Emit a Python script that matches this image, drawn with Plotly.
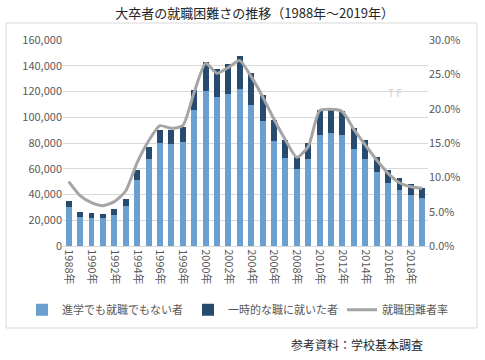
import plotly.graph_objects as go

years = [f"{y}年" for y in range(1988, 2020)]
no_path = [30550, 22780, 22000, 22000, 24080, 31330, 51260, 67830, 80260, 79480, 80780, 105630,
           120650, 115990, 118060, 121940, 109520, 97350, 81810, 68610, 59550, 67830, 86210, 88030,
           86210, 75600, 67830, 57740, 48670, 43500, 39350, 37540]
totals = [34950, 26400, 25630, 24850, 28740, 36500, 59030, 77150, 90360, 90360, 92690, 121170,
          142910, 137480, 141620, 147830, 134630, 117280, 97860, 82330, 69390, 79740, 105630, 105630,
          105110, 91910, 82330, 69390, 59030, 52560, 48160, 45310]
temp_job = [t - n for t, n in zip(totals, no_path)]
rate = [9.37, 7.33, 6.31, 5.87, 6.46, 8.01, 12.14, 15.29, 17.52, 17.14, 17.52, 22.38,
        26.6, 25.15, 26.0, 27.0, 24.66, 21.75, 18.45, 15.44, 12.91, 14.47, 19.71, 19.9,
        19.56, 16.99, 14.71, 12.52, 10.58, 9.22, 8.64, 8.40]
rate = [r / 100 for r in rate]
tick_labels = years[::2]

FONT = "Noto Sans CJK JP"
fig = go.Figure()
fig.add_trace(go.Bar(x=years, y=no_path, name="進学でも就職でもない者",
                     marker_color="#6b9fcf", marker_line_width=0, legend="legend"))
fig.add_trace(go.Bar(x=years, y=temp_job, name="一時的な職に就いた者",
                     marker_color="#264b6e", marker_line_width=0, legend="legend"))
fig.add_trace(go.Scatter(x=years, y=rate, name="就職困難者率", yaxis="y2", mode="lines",
                         legend="legend2",
                         line=dict(color="#a5a5a5", width=3, shape="spline", smoothing=0.6)))

fig.update_layout(
    width=485, height=360,
    margin=dict(l=63, r=57, t=40, b=114, autoexpand=False),
    paper_bgcolor="white", plot_bgcolor="white",
    barmode="stack", bargap=0.48,
    font=dict(family=FONT, size=11, color="#595959"),
    title=dict(text="大卒者の就職困難さの推移（1988年～2019年）", x=0.525, xanchor="center",
               y=0.962, yanchor="middle", font=dict(family=FONT, size=13, color="#262626")),
    xaxis=dict(type="category", tickmode="array", tickvals=tick_labels, ticktext=tick_labels,
               tickangle=90, showgrid=False, showline=True, linecolor="#d9d9d9",
               ticks="", automargin=False, tickfont=dict(size=11, color="#595959")),
    yaxis=dict(range=[0, 160000], dtick=20000, tickformat=",", gridcolor="#d9d9d9",
               zeroline=False, showline=False, ticks="", automargin=False,
               tickfont=dict(size=11, color="#595959")),
    yaxis2=dict(range=[0, 0.30], dtick=0.05, tickformat=".1%", overlaying="y", side="right",
                showgrid=False, zeroline=False, ticks="", automargin=False,
                tickfont=dict(size=11, color="#595959")),
    legend=dict(orientation="h", x=(22 - 63) / 365, xanchor="left", y=-0.31, yanchor="middle",
                font=dict(size=11, color="#595959"), traceorder="normal", itemwidth=30),
    legend2=dict(orientation="h", x=(342 - 63) / 365, xanchor="left", y=-0.31, yanchor="middle",
                 font=dict(size=11, color="#595959"), itemwidth=30),
    showlegend=True,
)
fig.add_shape(type="rect", xref="paper", yref="paper", x0=-0.156, x1=1.134, y0=-0.398, y1=1.0825,
              line=dict(color="#d9d9d9", width=1), layer="below")
fig.add_annotation(text="参考資料：学校基本調査", xref="paper", yref="paper", x=0.992, y=-0.48,
                   xanchor="right", yanchor="middle", showarrow=False,
                   font=dict(family=FONT, size=12, color="#262626"))
fig.add_annotation(text="T F", xref="paper", yref="paper", x=(395 - 63) / 365, y=(246 - 92) / 206,
                   xanchor="center", yanchor="middle", showarrow=False,
                   font=dict(family=FONT, size=10, color="#d0d0d0"))
fig.write_html("out.html", config={"displayModeBar": False},
               post_script="document.body.style.margin='0';document.body.style.overflow='hidden';")
